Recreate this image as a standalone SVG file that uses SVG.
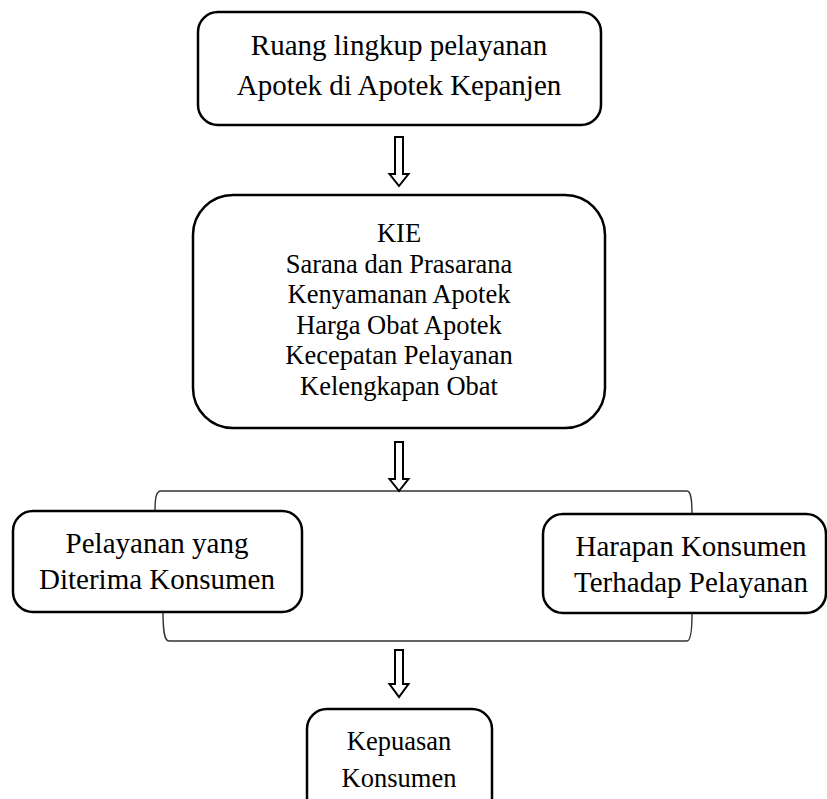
<svg xmlns="http://www.w3.org/2000/svg" width="827" height="799" viewBox="0 0 827 799">
<style>
.box{fill:#fff;stroke:#000;stroke-width:2.5}
.t{font-family:"Liberation Serif","Times New Roman",serif;fill:#000;text-anchor:middle}
.big{font-size:29px}
.mid{font-size:26.5px}
.arrow{fill:#fff;stroke:#000;stroke-width:2;stroke-linejoin:miter}
.brace{fill:none;stroke:#333;stroke-width:1.4}
</style>
<rect width="827" height="799" fill="#fff"/>
<g id="connectors">
<path class="brace" d="M155 512 C155 498 156 491 161 491 L687 491 C691 491 692 500 692 515"/>
<path class="brace" d="M163 611 C163 630 164 641 169 641 L687 641 C691 641 692 630 692 613"/>
<polygon class="arrow" points="395,137 403,137 403,174 408.5,174 399,186 389.5,174 395,174"/>
<polygon class="arrow" points="395,442 403,442 403,479 408.5,479 399,491 389.5,479 395,479"/>
<polygon class="arrow" points="395,650 403,650 403,684 408.5,684 399,697 389.5,684 395,684"/>
</g>
<g id="node-ruang">
<rect class="box" x="198" y="12" width="403" height="113" rx="20"/>
<text class="t big" x="399" y="55">Ruang lingkup pelayanan</text>
<text class="t big" x="399" y="95">Apotek di Apotek Kepanjen</text>
</g>
<g id="node-faktor">
<rect class="box" x="193" y="195" width="412" height="233" rx="40"/>
<text class="t mid" x="399" y="242">KIE</text>
<text class="t mid" x="399" y="272.5">Sarana dan Prasarana</text>
<text class="t mid" x="399" y="303">Kenyamanan Apotek</text>
<text class="t mid" x="399" y="333.5">Harga Obat Apotek</text>
<text class="t mid" x="399" y="364">Kecepatan Pelayanan</text>
<text class="t mid" x="399" y="394.5">Kelengkapan Obat</text>
</g>
<g id="node-diterima">
<rect class="box" x="13" y="511" width="289" height="101" rx="20"/>
<text class="t big" x="157" y="553">Pelayanan yang</text>
<text class="t big" x="157" y="589">Diterima Konsumen</text>
</g>
<g id="node-harapan">
<rect class="box" x="543" y="514" width="283" height="99" rx="20"/>
<text class="t big" x="691" y="556">Harapan Konsumen</text>
<text class="t big" x="691" y="592">Terhadap Pelayanan</text>
</g>
<g id="node-kepuasan">
<rect class="box" x="307" y="709" width="185" height="110" rx="20"/>
<text class="t mid" x="399" y="750">Kepuasan</text>
<text class="t mid" x="399" y="787">Konsumen</text>
</g>
</svg>
